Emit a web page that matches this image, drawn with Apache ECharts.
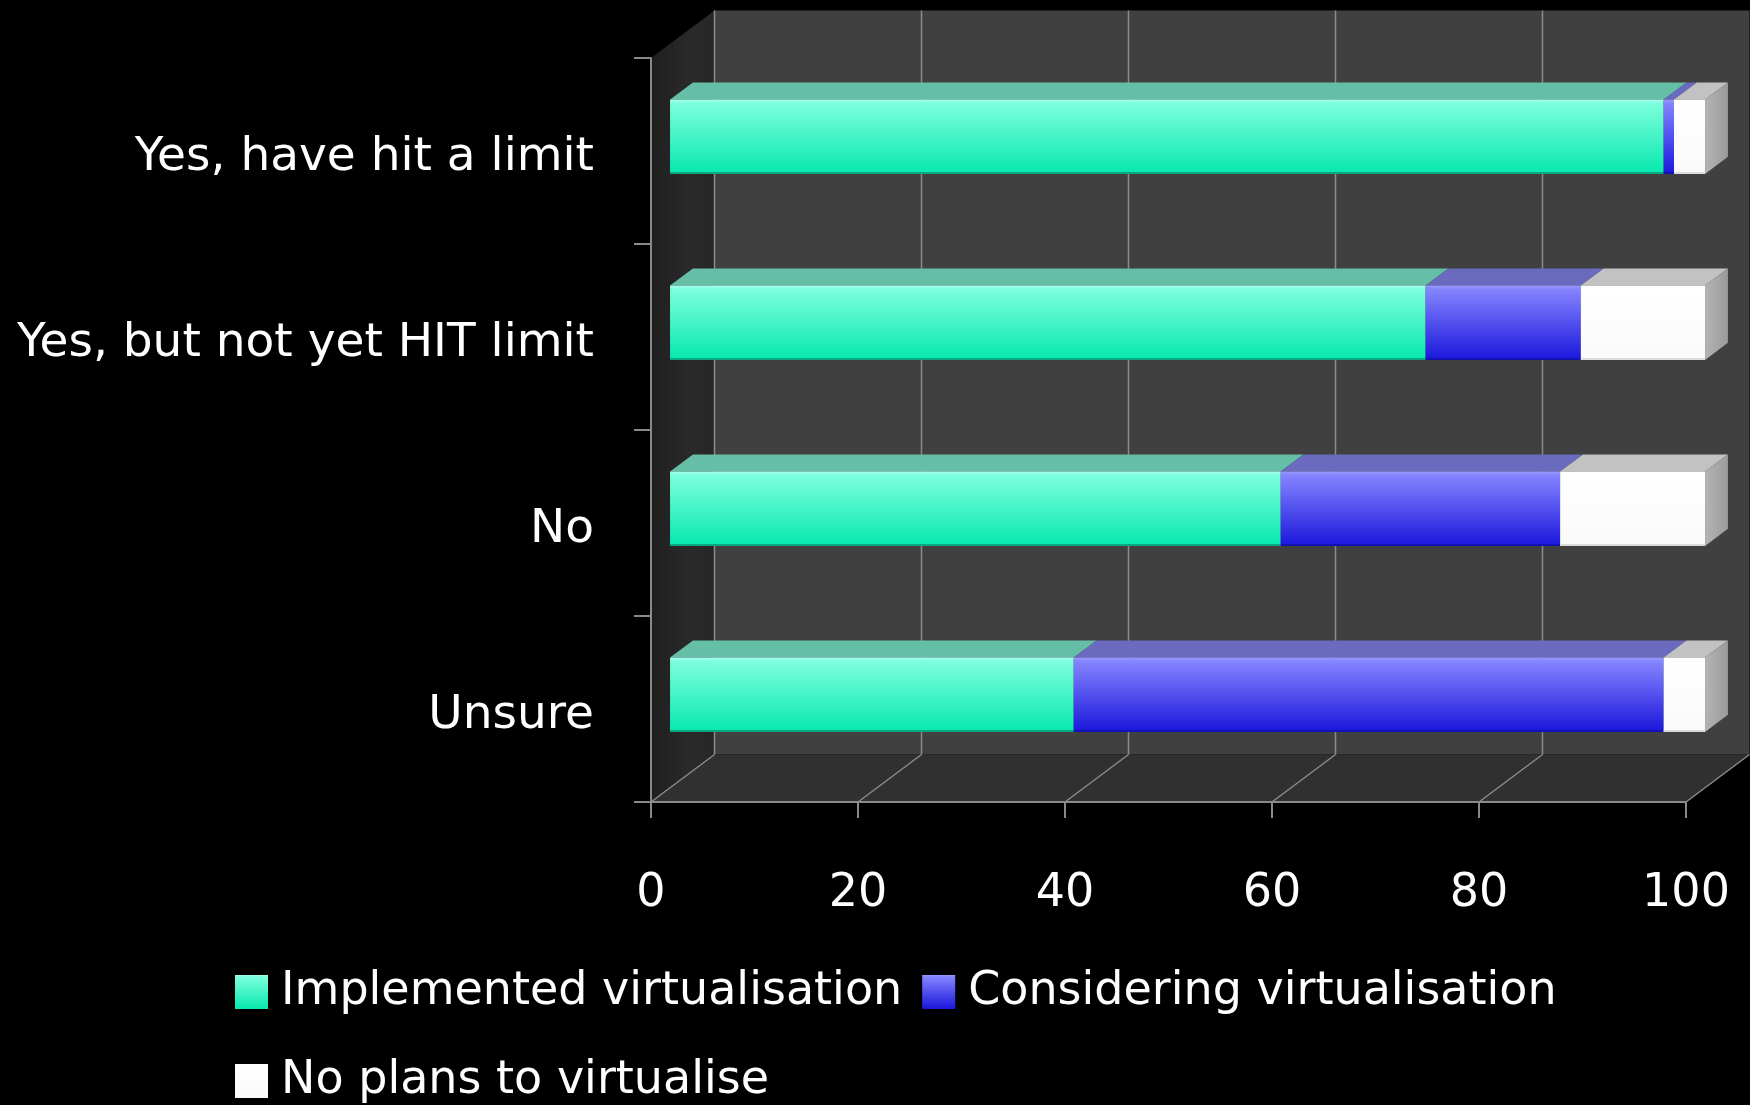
<!DOCTYPE html>
<html><head><meta charset="utf-8">
<script src="https://cdn.jsdelivr.net/npm/echarts@6/dist/echarts.min.js"></script>
<style>html,body{margin:0;padding:0;background:#000}#c{width:1750px;height:1105px}</style>
</head><body><div id="c"></div>
<script>
const categories = ['Yes, have hit a limit', 'Yes, but not yet HIT limit', 'No', 'Unsure'];
const seriesNames = ['Implemented virtualisation', 'Considering virtualisation', 'No plans to virtualise'];
const implemented = [96, 73, 59, 39];
const considering = [1, 15, 27, 57];
const noPlans = [3, 12, 14, 4];
const xTicks = [0, 20, 40, 60, 80, 100];

const FONT = 'DejaVu Sans';
const DX = 63.5, DY = -47.5;      // full depth of the pseudo-3D box
const F0 = 0.30, F1 = 0.66;       // bar front / back depth fractions

const values = [implemented, considering, noPlans];
const styles = [
  {front: ['#a4fff0', '#7dffdc', '#06e8ae'], top: '#64bfa6', edge: '#0a8f6c'},
  {front: ['#9a9aff', '#8484ff', '#1a16dc'], top: '#6a6abf', edge: '#1010a0'},
  {front: ['#ffffff', '#ffffff', '#fafafa'], top: '#c2c2c2', edge: '#cfcfcf'}
];

function grad(c) {
  return new echarts.graphic.LinearGradient(0, 0, 0, 1, [
    {offset: 0, color: c[0]}, {offset: 0.05, color: c[1]}, {offset: 1, color: c[2]}
  ]);
}

// build stacked segments [start, end, categoryIndex]
const segData = values.map(() => []);
categories.forEach((cat, ci) => {
  let acc = 0;
  values.forEach((arr, k) => {
    segData[k].push([acc, acc + arr[ci], ci]);
    acc += arr[ci];
  });
});

function barRender(k) {
  const st = styles[k];
  const last = k === values.length - 1;
  return function (params, api) {
    const s = api.value(0), e = api.value(1), c = api.value(2);
    const p0 = api.coord([s, c]), p1 = api.coord([e, c]);
    const band = api.size([0, 1])[1];
    const h = band * 0.40;
    const fx = DX * F0, fy = DY * F0;
    const bx = DX * (F1 - F0), by = DY * (F1 - F0);
    const x0 = p0[0] + fx, x1 = p1[0] + fx;
    const yt = p0[1] + fy - h / 2, yb = yt + h;
    const ch = [];
    ch.push({type: 'polygon', shape: {points: [[x0, yt], [x1, yt], [x1 + bx, yt + by], [x0 + bx, yt + by]]},
      style: {fill: st.top}});
    ch.push({type: 'rect', shape: {x: x0, y: yt, width: x1 - x0, height: h},
      style: {fill: grad(st.front)}});
    ch.push({type: 'line', shape: {x1: x0, y1: yb - 1, x2: x1, y2: yb - 1},
      style: {stroke: st.edge, lineWidth: 2, opacity: 0.7}});
    if (last) {
      ch.push({type: 'polygon', shape: {points: [[x1, yt], [x1 + bx, yt + by], [x1 + bx, yb + by], [x1, yb]]},
        style: {fill: new echarts.graphic.LinearGradient(0, 0, 1, 0, [
          {offset: 0, color: '#b4b4b4'}, {offset: 1, color: '#9a9a9a'}])}});
    }
    return {type: 'group', children: ch};
  };
}

function wallRender(params, api) {
  const cs = params.coordSys;
  const L = cs.x, T = cs.y, R = cs.x + cs.width, B = cs.y + cs.height;
  return {type: 'group', children: [
    {type: 'rect', shape: {x: L + DX, y: T + DY, width: cs.width, height: cs.height},
      style: {fill: '#404040'}},
    {type: 'polygon', shape: {points: [[L, B], [R, B], [R + DX, B + DY], [L + DX, B + DY]]},
      style: {fill: '#303030'}},
    {type: 'polygon', shape: {points: [[L, T], [L + DX, T + DY], [L + DX, B + DY], [L, B]]},
      style: {fill: new echarts.graphic.LinearGradient(0, 0, 1, 0, [
        {offset: 0, color: '#1e1e1e'}, {offset: 0.6, color: '#2a2a2a'}, {offset: 1, color: '#262626'}])}}
  ]};
}

function gridRender(params, api) {
  const cs = params.coordSys;
  const v = api.value(0);
  const p = api.coord([v, 0]);
  const x = p[0];
  const T = cs.y, B = cs.y + cs.height;
  const ch = [
    {type: 'line', shape: {x1: x, y1: B, x2: x + DX, y2: B + DY}, style: {stroke: '#8a8a8a', lineWidth: 1.5}}
  ];
  if (v < 100) {
    ch.push({type: 'line', shape: {x1: x + DX, y1: T + DY, x2: x + DX, y2: B + DY},
      style: {stroke: '#8a8a8a', lineWidth: 1.5}});
  }
  return {type: 'group', children: ch};
}

const chart = echarts.init(document.getElementById('c'), null, {renderer: 'canvas'});
const series = [
  {type: 'custom', name: '_walls', z: -2, silent: true, data: [[0, 0]], renderItem: wallRender, tooltip: {show: false}},
  {type: 'custom', name: '_grid', z: -1, silent: true, data: xTicks.map(v => [v, 0]), renderItem: gridRender}
];
values.forEach((arr, k) => {
  series.push({
    type: 'custom', name: seriesNames[k], z: 3 + k,
    itemStyle: {color: grad(styles[k].front)},
    encode: {x: [0, 1], y: 2},
    data: segData[k], renderItem: barRender(k)
  });
});

const legendText = {color: '#fff', fontSize: 46, fontFamily: FONT, lineHeight: 50, padding: [0, 0, 0, 8]};
chart.setOption({
  backgroundColor: '#000',
  animation: false,
  grid: {left: 651, right: 64, top: 58, bottom: 303},
  xAxis: {
    type: 'value', min: 0, max: 100, interval: 20,
    axisLine: {show: true, lineStyle: {color: '#8a8a8a', width: 2}},
    axisTick: {show: true, length: 16, lineStyle: {color: '#8a8a8a', width: 2}},
    splitLine: {show: false},
    axisLabel: {color: '#fff', fontSize: 46, fontFamily: FONT, margin: 69}
  },
  yAxis: {
    type: 'category', data: categories, inverse: true,
    axisLine: {show: true, lineStyle: {color: '#8a8a8a', width: 2}},
    axisTick: {show: true, length: 17, lineStyle: {color: '#8a8a8a', width: 2}},
    splitLine: {show: false},
    axisLabel: {
      color: '#fff', fontSize: 47, fontFamily: FONT, margin: 57,
      formatter: function (v) { return '{a|' + v + '}'; },
      rich: {a: {color: '#fff', fontSize: 47, fontFamily: FONT, lineHeight: 52, padding: [14, 0, 0, 0]}}
    }
  },
  legend: [
    {data: seriesNames.slice(0, 2), left: 230, top: 962, orient: 'horizontal', icon: 'rect',
      itemWidth: 33, itemHeight: 34, itemGap: 20, textStyle: legendText, selectedMode: false},
    {data: seriesNames.slice(2), left: 230, top: 1051, orient: 'horizontal', icon: 'rect',
      itemWidth: 33, itemHeight: 34, itemGap: 20, textStyle: legendText, selectedMode: false}
  ],
  series: series
});
</script>
</body></html>
